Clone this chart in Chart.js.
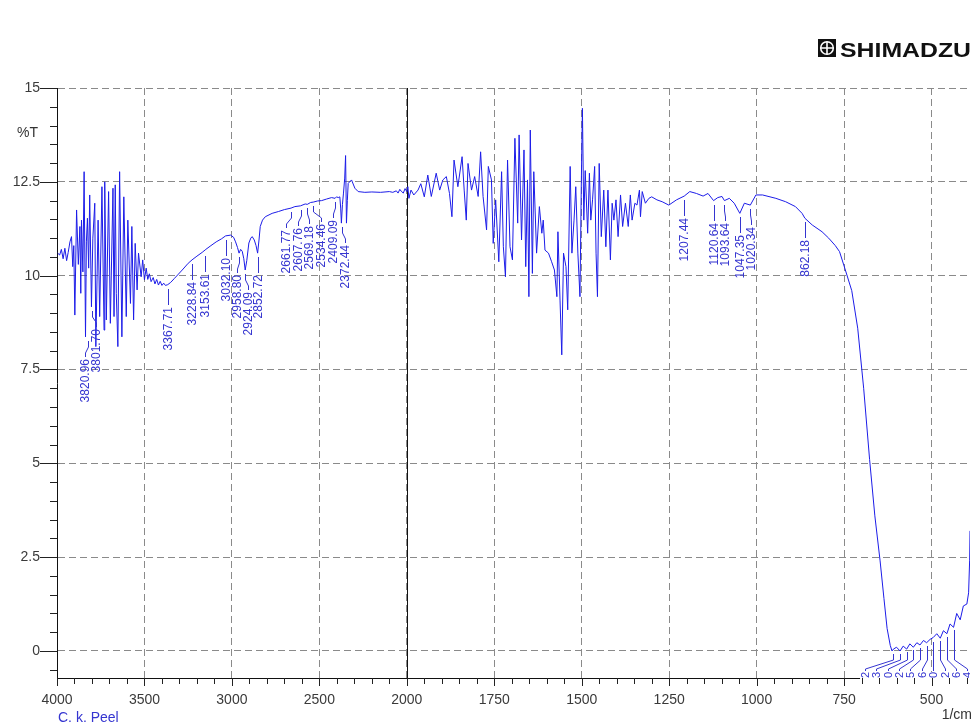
<!DOCTYPE html>
<html>
<head>
<meta charset="utf-8">
<script src="https://cdn.jsdelivr.net/npm/chart.js@4.4.1/dist/chart.umd.min.js"></script>
<style>
  html, body { margin: 0; padding: 0; background: #fff; }
  canvas { display: block; }
</style>
</head>
<body>
<canvas id="ir-chart" width="977" height="724"></canvas>
<script>
// spectrum: [wavenumber (1/cm), %T]
const spectrum4000to2000 = [
  [3996, 10.60], [3985, 10.55], [3975, 10.70], [3965, 10.45], [3955, 10.73], [3945, 10.40], [3936, 10.62],
  [3926, 10.90], [3917, 11.04], [3910, 10.24], [3904, 10.80], [3898, 8.95], [3888, 11.75], [3878, 10.30],
  [3869, 11.31], [3864, 9.53], [3860, 11.48], [3852, 10.10], [3845, 12.77], [3837, 8.37], [3832, 10.90],
  [3826, 11.53], [3819, 10.20], [3813, 12.15], [3803, 9.17], [3795, 11.00], [3784, 11.93], [3778, 8.11],
  [3765, 11.48], [3756, 8.91], [3743, 12.37], [3731, 8.55], [3727, 12.50], [3718, 8.82], [3705, 12.24],
  [3695, 8.73], [3680, 12.33], [3674, 8.91], [3667, 12.42], [3661, 9.53], [3652, 8.11], [3642, 12.77],
  [3629, 8.37], [3618, 12.10], [3604, 8.91], [3595, 11.48], [3580, 9.26], [3572, 11.31], [3562, 8.82],
  [3553, 10.86], [3542, 9.62], [3534, 10.60], [3519, 9.97], [3510, 10.42], [3500, 9.89], [3490, 10.20],
  [3481, 9.90], [3472, 10.05], [3462, 9.84], [3450, 9.95], [3440, 9.78], [3430, 9.90], [3420, 9.75],
  [3410, 9.85], [3400, 9.74], [3390, 9.80], [3380, 9.74], [3367, 9.76], [3350, 9.82], [3330, 9.92],
  [3310, 10.02], [3284, 10.15], [3250, 10.33], [3228, 10.42], [3200, 10.52], [3170, 10.62], [3149, 10.70],
  [3120, 10.80], [3090, 10.90], [3060, 10.98], [3036, 11.06], [3007, 11.08], [2990, 11.02], [2979, 10.90],
  [2968, 10.75], [2959, 10.60], [2950, 10.70], [2941, 10.65], [2932, 10.45], [2924, 10.15], [2915, 10.40],
  [2903, 10.87], [2892, 11.00], [2884, 11.04], [2872, 10.95], [2862, 10.80], [2853, 10.60], [2845, 10.95],
  [2838, 11.31], [2825, 11.48], [2809, 11.57], [2770, 11.66], [2733, 11.71], [2700, 11.76], [2662, 11.80],
  [2640, 11.84], [2608, 11.86], [2581, 11.91], [2569, 11.90], [2550, 11.95], [2535, 11.96], [2510, 11.99],
  [2487, 12.00], [2460, 12.04], [2430, 12.08], [2410, 12.06], [2402, 12.10], [2392, 12.08], [2383, 12.10],
  [2378, 11.80], [2374, 11.40], [2368, 11.90], [2362, 12.20], [2355, 12.60], [2350, 13.20], [2345, 11.40],
  [2340, 12.00], [2335, 12.46], [2316, 12.55], [2297, 12.33], [2278, 12.24], [2240, 12.22], [2200, 12.23],
  [2150, 12.22], [2100, 12.24], [2080, 12.22], [2060, 12.26], [2050, 12.20], [2040, 12.30], [2032, 12.25],
  [2020, 12.20], [2010, 12.32], [2000, 12.24]
];
const spectrum2000to1300 = [
  [1997, 12.37], [1994, 12.06], [1988, 12.28], [1980, 12.15], [1968, 12.28], [1960, 12.45], [1950, 12.10],
  [1940, 12.68], [1930, 12.11], [1916, 12.73], [1906, 12.28], [1897, 12.55], [1887, 12.64], [1878, 12.19],
  [1871, 11.57], [1865, 13.08], [1854, 12.37], [1842, 13.17], [1836, 12.28], [1830, 11.48], [1825, 12.99],
  [1815, 12.28], [1806, 12.64], [1796, 12.11], [1789, 13.30], [1782, 12.11], [1772, 11.22], [1767, 12.91],
  [1758, 12.55], [1753, 10.86], [1746, 12.02], [1737, 10.37], [1729, 12.77], [1724, 10.77], [1718, 9.97],
  [1712, 13.08], [1705, 10.77], [1698, 10.42], [1691, 13.66], [1683, 11.40], [1679, 13.75], [1672, 10.95],
  [1665, 13.35], [1660, 10.24], [1655, 12.55], [1651, 9.44], [1647, 13.88], [1641, 10.06], [1637, 12.77],
  [1629, 10.60], [1621, 11.84], [1614, 11.13], [1610, 11.48], [1605, 10.68], [1595, 10.60], [1586, 10.37],
  [1578, 10.15], [1571, 9.44], [1568, 11.17], [1562, 9.35], [1557, 7.89], [1552, 10.60], [1545, 10.24],
  [1540, 9.09], [1533, 12.91], [1528, 10.60], [1522, 11.48], [1517, 12.37], [1511, 10.60], [1505, 9.44],
  [1501, 12.55], [1498, 14.46], [1494, 11.48], [1490, 12.80], [1483, 11.13], [1478, 12.73], [1474, 11.48],
  [1469, 12.02], [1463, 12.91], [1459, 10.60], [1455, 9.44], [1450, 12.99], [1444, 11.04], [1437, 12.28],
  [1431, 10.77], [1425, 12.28], [1418, 10.42], [1413, 11.93], [1408, 11.48], [1402, 12.02], [1396, 11.04],
  [1389, 12.15], [1383, 11.31], [1375, 11.93], [1367, 11.31], [1361, 12.15], [1356, 11.48], [1348, 11.93],
  [1342, 11.88], [1335, 12.28], [1332, 11.57], [1327, 12.24], [1318, 11.93], [1308, 12.06]
];
const spectrum1300to390 = [
  [1300, 12.10], [1285, 12.02], [1270, 11.97], [1251, 11.88], [1229, 12.02], [1207, 12.12], [1191, 12.24],
  [1172, 12.19], [1153, 12.12], [1139, 12.19], [1123, 12.00], [1111, 12.08], [1099, 12.11], [1092, 12.00],
  [1078, 12.06], [1064, 11.93], [1048, 11.66], [1035, 11.93], [1018, 11.88], [1002, 12.15], [983, 12.15],
  [945, 12.06], [917, 11.97], [889, 11.84], [870, 11.66], [862, 11.53], [841, 11.35], [813, 11.17],
  [794, 11.00], [775, 10.80], [763, 10.64], [748, 10.20], [728, 9.60], [711, 8.60], [694, 7.00],
  [677, 5.10], [662, 3.60], [647, 2.40], [636, 1.40], [627, 0.60], [618, 0.15], [613, 0.00], [609, 0.05],
  [600, 0.10], [590, 0.00], [581, 0.13], [571, 0.05], [562, 0.19], [552, 0.10], [542, 0.22], [533, 0.16],
  [523, 0.28], [514, 0.22], [504, 0.31], [495, 0.36], [485, 0.46], [475, 0.34], [466, 0.54], [456, 0.46],
  [447, 0.72], [437, 0.63], [428, 1.00], [418, 0.83], [409, 1.20], [399, 1.25], [394, 1.55], [391, 2.42],
  [390, 3.20]
];

// peak picks printed on the chart
const peakLabels = [3820.96, 3801.70, 3367.71, 3228.84, 3153.61, 3032.10, 2958.80, 2924.09, 2852.72,
  2661.77, 2607.76, 2569.18, 2534.46, 2409.09, 2372.44, 1207.44, 1120.64, 1093.64, 1047.35, 1020.34, 862.18];
const lowPeakLabels = [609.52, 590.23, 571.30, 552.02, 533.45, 514.16, 495.30, 475.02, 456.36, 437.14];

const xTickLabels = [4000, 3500, 3000, 2500, 2000, 1750, 1500, 1250, 1000, 750, 500];
const yTickLabels = [0, 2.5, 5, 7.5, 10, 12.5, 15];

// below 2000 1/cm the printout is drawn at double scale
const toAxis = w => (w >= 2000 ? w : 2 * w - 2000);
const fromAxis = u => (u >= 2000 ? u : (u + 2000) / 2);

const spectrum = [...spectrum4000to2000, ...spectrum2000to1300, ...spectrum1300to390];

const FONT = '"Liberation Sans", Arial, sans-serif';
const LABEL_BLUE = '#3535d0';

function transmittanceAt(w) {
  for (let i = 1; i < spectrum.length; i++) {
    const [w0, t0] = spectrum[i - 1];
    const [w1, t1] = spectrum[i];
    if (w <= w0 && w >= w1) return t0 + (t1 - t0) * (w0 - w) / (w0 - w1);
  }
  return spectrum[spectrum.length - 1][1];
}

// lowest point of the trace close to a peak pick
function troughNear(w) {
  let t = transmittanceAt(w);
  spectrum.forEach(([wn, tv]) => {
    if (Math.abs(toAxis(wn) - toAxis(w)) <= 20) t = Math.min(t, tv);
  });
  return t;
}

const isMajorY = v => v >= 0 && Math.abs(v / 2.5 - Math.round(v / 2.5)) < 1e-6;
const isMajorX = u => Math.round(u) % 500 === 0;

function drawRotated(ctx, text, x, yTop) {
  ctx.save();
  ctx.translate(x, yTop);
  ctx.rotate(-Math.PI / 2);
  ctx.textAlign = 'right';
  ctx.textBaseline = 'middle';
  ctx.fillText(text, 0, 0);
  ctx.restore();
}

function drawPeakLabels(chart) {
  const { ctx, scales: { x, y } } = chart;
  const marks = peakLabels.map(w => ({
    w,
    px: Math.round(x.getPixelForValue(toAxis(w))) + 0.5,
    top: Math.round(y.getPixelForValue(troughNear(w))) + 4
  })).sort((a, b) => a.px - b.px);

  // peaks that sit too close get their labels fanned out
  const groups = [];
  marks.forEach(m => {
    const g = groups[groups.length - 1];
    if (g && m.px - g[g.length - 1].px < 11.5) g.push(m);
    else groups.push([m]);
  });
  groups.forEach(g => {
    const mid = g.reduce((s, m) => s + m.px, 0) / g.length;
    g.forEach((m, i) => {
      m.lx = g.length > 1 ? Math.round(mid + (i - (g.length - 1) / 2) * 11.5) + 0.5 : m.px;
    });
  });

  ctx.save();
  ctx.strokeStyle = LABEL_BLUE;
  ctx.fillStyle = LABEL_BLUE;
  ctx.lineWidth = 1;
  ctx.font = '12px ' + FONT;
  marks.forEach(m => {
    ctx.beginPath();
    ctx.moveTo(m.px, m.top);
    if (m.lx === m.px) {
      ctx.lineTo(m.px, m.top + 16);
    } else {
      ctx.lineTo(m.px, m.top + 6);
      ctx.lineTo(m.lx, m.top + 12);
      ctx.lineTo(m.lx, m.top + 16);
    }
    ctx.stroke();
    drawRotated(ctx, m.w.toFixed(2), m.lx, m.top + 18);
  });
  ctx.restore();
}

function drawLowPeakLabels(chart) {
  const { ctx, chartArea: a, scales: { x, y } } = chart;
  const left = x.getPixelForValue(toAxis(690));
  const right = x.getPixelForValue(toAxis(398));
  const n = lowPeakLabels.length;

  ctx.save();
  // the label strip covers the axis line there
  ctx.fillStyle = '#fff';
  ctx.fillRect(left - 5, a.bottom - 6, a.right - left + 10, 9);
  ctx.beginPath();
  ctx.rect(a.left, a.top, a.right - a.left, a.bottom - a.top);
  ctx.clip();
  ctx.strokeStyle = LABEL_BLUE;
  ctx.fillStyle = LABEL_BLUE;
  ctx.lineWidth = 1;
  ctx.font = '11px ' + FONT;
  lowPeakLabels.forEach((w, i) => {
    const px = Math.round(x.getPixelForValue(toAxis(w))) + 0.5;
    const top = Math.round(y.getPixelForValue(troughNear(w))) + 3;
    const lx = Math.round(left + (right - left) * i / (n - 1)) + 0.5;
    ctx.beginPath();
    ctx.moveTo(px, top);
    ctx.lineTo(px, a.bottom - 18);
    ctx.lineTo(lx, a.bottom - 9);
    ctx.lineTo(lx, a.bottom - 7);
    ctx.stroke();
    drawRotated(ctx, w.toFixed(2), lx, a.bottom - 6);
  });
  ctx.restore();
}

function drawTickMarks(chart) {
  const { ctx, chartArea: a, scales: { x, y } } = chart;
  ctx.save();
  ctx.strokeStyle = '#222';
  ctx.lineWidth = 1;
  ctx.beginPath();
  y.ticks.forEach(t => {
    const py = Math.round(y.getPixelForValue(t.value)) + 0.5;
    const len = isMajorY(t.value) ? 17 : 7;
    ctx.moveTo(a.left - len, py);
    ctx.lineTo(a.left, py);
  });
  x.ticks.forEach(t => {
    const px = Math.round(x.getPixelForValue(t.value)) + 0.5;
    const len = isMajorX(t.value) ? 8 : 6;
    ctx.moveTo(px, a.bottom);
    ctx.lineTo(px, a.bottom + len);
  });
  ctx.stroke();
  ctx.restore();
}

function drawLogo(ctx) {
  ctx.save();
  ctx.fillStyle = '#111';
  ctx.fillRect(818, 39, 18, 18);
  ctx.strokeStyle = '#fff';
  ctx.lineWidth = 1.6;
  ctx.beginPath();
  ctx.arc(827, 48, 6.3, 0, Math.PI * 2);
  ctx.stroke();
  ctx.beginPath();
  ctx.moveTo(827, 41.7); ctx.lineTo(827, 54.3);
  ctx.moveTo(820.7, 48); ctx.lineTo(833.3, 48);
  ctx.stroke();
  ctx.font = 'bold 21px ' + FONT;
  const w = ctx.measureText('SHIMADZU').width;
  ctx.translate(840, 56.5);
  ctx.scale(131 / w, 1);
  ctx.fillText('SHIMADZU', 0, 0);
  ctx.restore();
}

const overlay = {
  id: 'overlay',
  beforeDatasetsDraw(chart) {
    // solid line where the scale changes
    const { ctx, chartArea: a, scales: { x } } = chart;
    const px = Math.round(x.getPixelForValue(toAxis(2000))) + 0.5;
    ctx.save();
    ctx.strokeStyle = '#111';
    ctx.lineWidth = 1;
    ctx.beginPath();
    ctx.moveTo(px, a.top);
    ctx.lineTo(px, a.bottom);
    ctx.stroke();
    ctx.restore();
  },
  afterDatasetsDraw(chart) {
    drawPeakLabels(chart);
    drawLowPeakLabels(chart);
  },
  afterDraw(chart) {
    const { ctx, scales: { y } } = chart;
    drawTickMarks(chart);
    ctx.save();
    ctx.font = '14px ' + FONT;
    ctx.fillStyle = '#333';
    ctx.textAlign = 'right';
    ctx.textBaseline = 'middle';
    ctx.fillText('%T', 38, y.getPixelForValue(13.8));
    ctx.fillText('1/cm', 972, 715);
    ctx.fillStyle = LABEL_BLUE;
    ctx.textAlign = 'left';
    ctx.fillText('C. k. Peel', 58, 718);
    ctx.restore();
    drawLogo(ctx);
  }
};

const xTickValues = [];
for (let u = -1200; u <= 4000; u += 100) xTickValues.push(u);
const yTickValues = [];
for (let k = -1; k <= 30; k++) yTickValues.push(k * 0.5);

new Chart(document.getElementById('ir-chart'), {
  type: 'line',
  data: {
    datasets: [{
      data: spectrum.map(([w, t]) => ({ x: toAxis(w), y: t })),
      borderColor: '#1c1ce8',
      borderWidth: 1,
      pointRadius: 0,
      tension: 0
    }]
  },
  options: {
    responsive: false,
    animation: false,
    devicePixelRatio: 1,
    layout: { padding: { top: 88, right: 7, bottom: 0, left: 0 } },
    plugins: { legend: { display: false }, tooltip: { enabled: false } },
    scales: {
      x: {
        type: 'linear',
        reverse: true,
        min: toAxis(390),
        max: 4000,
        afterBuildTicks: axis => { axis.ticks = xTickValues.map(v => ({ value: v })); },
        afterFit: axis => { axis.height = 46; },
        grid: {
          color: c => (c.tick && isMajorX(c.tick.value) ? '#8a8a8a' : 'rgba(0,0,0,0)'),
          lineWidth: 1,
          drawTicks: false
        },
        border: { color: '#111', width: 1, dash: [7, 4] },
        ticks: {
          autoSkip: false,
          maxRotation: 0,
          padding: 14,
          color: '#3a3a3a',
          font: { family: FONT, size: 14 },
          callback: v => {
            const w = fromAxis(v);
            return xTickLabels.includes(w) ? String(w) : '';
          }
        }
      },
      y: {
        min: -0.72,
        max: 15,
        afterBuildTicks: axis => { axis.ticks = yTickValues.map(v => ({ value: v })); },
        afterFit: axis => { axis.width = 57; },
        grid: {
          color: c => (c.tick && isMajorY(c.tick.value) ? '#8a8a8a' : 'rgba(0,0,0,0)'),
          lineWidth: 1,
          drawTicks: false
        },
        border: { color: '#111', width: 1, dash: [7, 4] },
        ticks: {
          autoSkip: false,
          padding: 17,
          color: '#3a3a3a',
          font: { family: FONT, size: 14 },
          callback: v => (yTickLabels.includes(v) ? String(v) : '')
        }
      }
    }
  },
  plugins: [overlay]
});
</script>
</body>
</html>
